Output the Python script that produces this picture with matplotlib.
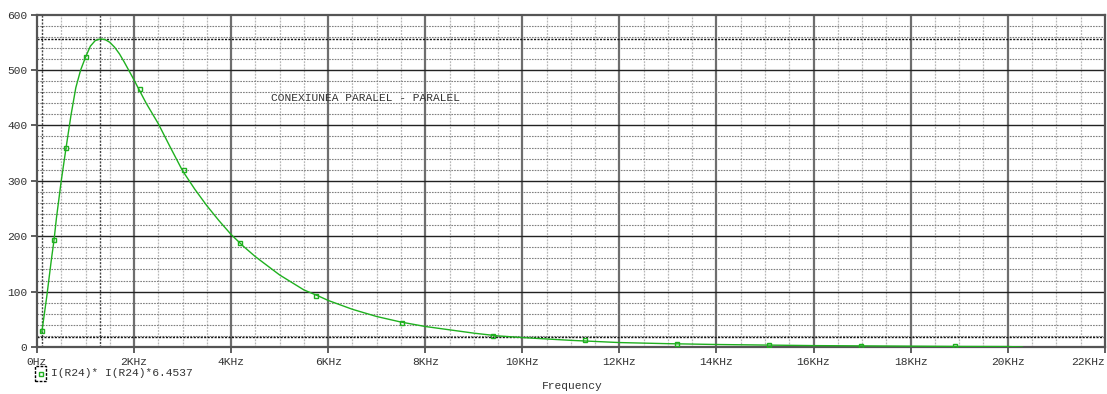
"""PSpice style frequency response: conexiunea paralel - paralel."""
import matplotlib
matplotlib.use('Agg')
import matplotlib.pyplot as plt
from matplotlib.patches import Rectangle
from matplotlib.lines import Line2D
import numpy as np

# curve (kHz, value)
freq_khz = [0.1, 0.2, 0.3, 0.35, 0.4, 0.5, 0.6, 0.7, 0.8, 0.9, 1.0, 1.1,
            1.2, 1.3, 1.4, 1.5, 1.6, 1.7, 1.8, 1.9, 2.0, 2.1, 2.25, 2.5,
            2.75, 3.0, 3.25, 3.5, 3.75, 4.0, 4.25, 4.5, 5.0, 5.5, 5.8, 6.0,
            6.5, 7.0, 7.5, 8.0, 8.5, 9.0, 9.5, 10.0, 11.0, 12.0, 13.0, 14.0,
            15.0, 16.0, 17.0, 18.0, 19.0, 20.0]
power = [27, 90, 160, 192, 232, 300, 360, 418, 468, 500, 523, 543,
         553, 556, 555, 550, 541, 529, 514, 498, 482, 465, 440, 403,
         360, 318, 285, 255, 228, 203, 182, 163, 130, 103, 92, 84,
         68, 55, 45, 37, 31, 25, 20, 17, 12, 8, 6, 4.5,
         3.5, 2.5, 2, 1.5, 1, 0.8]

# marker positions on the trace
marker_khz = [0.1, 0.35, 0.6, 1.0, 2.12, 3.03, 4.18, 5.75, 7.52, 9.39,
              11.29, 13.18, 15.08, 16.97, 18.91]
marker_val = [28, 193, 359, 524, 465, 319, 187, 92, 44, 20,
              12, 6, 3.5, 2, 1]

# cursor lines
cursor_x = [0.1, 1.3]
cursor_y = [18, 556]

xticks = list(range(0, 23, 2))
xlabels = ['0Hz'] + [f'{v}KHz' for v in xticks[1:]]
yticks = [0, 100, 200, 300, 400, 500, 600]

MONO = 'Liberation Mono'
FS = 8.1
GREEN = '#1fb01f'
TXT = '#333333'

fig = plt.figure(figsize=(11.07, 3.94), dpi=100)
ax = fig.add_axes([0.0334, 0.1193, 0.9646, 0.8437])
ax.set_xlim(0, 22)
ax.set_ylim(0, 600)

# minor grid
for x in np.arange(0.5, 22, 0.5):
    if x % 2:
        ax.axvline(x, color='#b8b8b8', lw=0.9, ls=(0, (1.5, 1)), zorder=1)
for y in range(20, 600, 20):
    if y % 100:
        ax.axhline(y, color='#808080', lw=0.8, ls=(0, (1.5, 1)), zorder=1)
# major grid
for x in xticks[1:-1]:
    ax.axvline(x, color='#6e6e6e', lw=1.6, zorder=1)
for y in yticks[1:-1]:
    ax.axhline(y, color='#222222', lw=1.0, zorder=1)
# cursors
for x in cursor_x:
    ax.axvline(x, color='#444444', lw=1.0, ls=(0, (1.5, 1)), zorder=2)
for y in cursor_y:
    ax.axhline(y, color='#111111', lw=1.0, ls=(0, (1.5, 1)), zorder=2)

ax.plot(freq_khz, power, color=GREEN, lw=1.0, zorder=3)
ax.plot([freq_khz[-1], freq_khz[-1] + 0.3], [power[-1], 0], color=GREEN,
        lw=1.0, zorder=3)
ax.plot(marker_khz, marker_val, ls='none', marker='s', ms=3.5, mfc='none',
        mec=GREEN, mew=1.0, zorder=4)

for side in ['top', 'bottom', 'left', 'right']:
    ax.spines[side].set_color('#555555')
    ax.spines[side].set_linewidth(1.6)

ax.set_xticks(xticks)
ax.set_xticklabels(xlabels, family=MONO, fontsize=FS, color=TXT)
ax.get_xticklabels()[-1].set_ha('right')
ax.set_yticks(yticks)
ax.set_yticklabels([str(v) for v in yticks], family=MONO, fontsize=FS,
                   color=TXT)
ax.tick_params(axis='both', direction='out', length=4, width=1.2,
               color='#444444', pad=3)

ax.text(4.83, 450, 'CONEXIUNEA PARALEL - PARALEL', family=MONO,
        fontsize=FS, color=TXT, va='center', ha='left')

# legend below axes
fig.patches.append(Rectangle((35 / 1107, 1 - 381 / 394), 11 / 1107,
                             15 / 394, transform=fig.transFigure,
                             fill=False, ec='black', lw=1.0, ls=(0, (2, 1))))
fig.lines.append(Line2D([40.5 / 1107], [1 - 373.5 / 394],
                        transform=fig.transFigure, marker='s', ms=3.5,
                        mfc='none', mec=GREEN, mew=1.0, ls='none'))
fig.text(51 / 1107, 1 - 373.5 / 394, 'I(R24)* I(R24)*6.4537', family=MONO,
         fontsize=FS, color=TXT, va='center', ha='left')
fig.text(572 / 1107, 1 - 386 / 394, 'Frequency', family=MONO, fontsize=FS,
         color=TXT, va='center', ha='center')

fig.savefig('out.png', dpi=100)
